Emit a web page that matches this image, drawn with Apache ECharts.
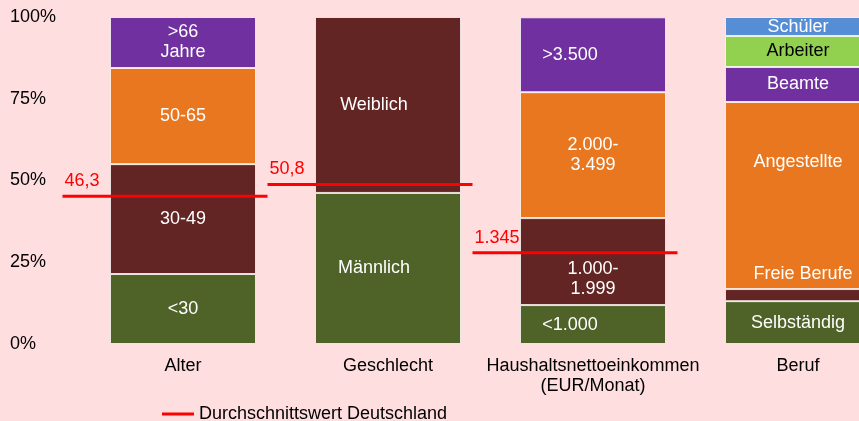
<!DOCTYPE html>
<html>
<head>
<meta charset="utf-8">
<script src="https://cdn.jsdelivr.net/npm/echarts@6/dist/echarts.min.js"></script>
<style>
  html, body { margin: 0; padding: 0; background: #FFDEE0; }
  #chart { width: 859px; height: 421px; }
</style>
</head>
<body>
<div id="chart"></div>
<script>
// categories on the x axis
var categories = ['Alter', 'Geschlecht', 'Haushaltsnettoeinkommen\n(EUR/Monat)', 'Beruf'];

// segments per category (bottom to top), values in %
var alterNames = ['<30', '30-49', '50-65', '>66\nJahre'];
var alterValues = [21.4, 33.6, 29.4, 15.6];

var geschlechtNames = ['Männlich', 'Weiblich'];
var geschlechtValues = [46.2, 53.8];

var einkommenNames = ['<1.000', '1.000-\n1.999', '2.000-\n3.499', '>3.500'];
var einkommenValues = [11.9, 26.6, 38.5, 22.9];

var berufNames = ['Selbständig', 'Freie Berufe', 'Angestellte', 'Beamte', 'Arbeiter', 'Schüler'];
var berufValues = [13.1, 3.7, 57.2, 10.7, 9.5, 5.8];

// Durchschnittswert Deutschland (position on the 0-100 scale + label)
var avgValues = [45.2, 48.8, 27.9];
var avgLabels = ['46,3', '50,8', '1.345'];

var yTicks = [0, 25, 50, 75, 100];

// styles
var GREEN = '#4F6228', MAROON = '#632523', ORANGE = '#E8771F', PURPLE = '#7030A0';
var LIGHTGREEN = '#92D050', BLUE = '#558ED5';
var FONT = "'Liberation Sans', Arial, sans-serif";
var FS = 18;

var groups = [
    { names: alterNames, values: alterValues, colors: [GREEN, MAROON, ORANGE, PURPLE] },
    { names: geschlechtNames, values: geschlechtValues, colors: [GREEN, MAROON] },
    { names: einkommenNames, values: einkommenValues, colors: [GREEN, MAROON, ORANGE, PURPLE] },
    { names: berufNames, values: berufValues, colors: [GREEN, MAROON, ORANGE, PURPLE, LIGHTGREEN, BLUE] }
];

// label tweaks (offset in px), by segment name
var labelOffset = {
    'Männlich': [-14, 0], 'Weiblich': [-14, 0],
    '<1.000': [-23, 0], '>3.500': [-23, 0], '1.000-\n1.999': [0, 17],
    'Angestellte': [0, -34], 'Freie Berufe': [5, -21], 'Schüler': [0, 1]
};
var labelDark = { 'Arbeiter': true };

var series = [];
groups.forEach(function (g, ci) {
    g.names.forEach(function (name, si) {
        var data = categories.map(function (c, i) { return i === ci ? g.values[si] : '-'; });
        series.push({
            name: name,
            type: 'bar',
            stack: 'total',
            barWidth: 146,
            data: data,
            itemStyle: { color: g.colors[si], borderColor: 'rgba(255,255,255,0.75)', borderWidth: 1 },
            label: {
                show: true,
                position: 'inside',
                formatter: name,
                offset: labelOffset[name] || [0, 0],
                color: labelDark[name] ? '#000' : '#fff',
                fontFamily: FONT,
                fontSize: FS,
                lineHeight: 20
            },
            emphasis: { disabled: true }
        });
    });
});

series.push({
    name: 'Durchschnittswert Deutschland',
    type: 'custom',
    itemStyle: { color: '#FF0000' },
    data: avgValues.map(function (v, i) { return [i, v]; }),
    renderItem: function (params, api) {
        var p = api.coord([api.value(0), api.value(1)]);
        var bw = api.size([1, 0])[0];
        var x0 = p[0] - bw / 2 - 18, x1 = p[0] + bw / 2 - 18;
        return {
            type: 'group',
            children: [
                { type: 'line', shape: { x1: x0, y1: p[1], x2: x1, y2: p[1] },
                  style: { stroke: '#FF0000', lineWidth: 3 } },
                { type: 'text', x: x0 + 2, y: p[1] - 6,
                  style: { text: avgLabels[params.dataIndex], fill: '#FF0000', font: FS + 'px ' + FONT,
                           textVerticalAlign: 'bottom' } }
            ]
        };
    },
    z: 5
});

var chart = echarts.init(document.getElementById('chart'));
chart.setOption({
    backgroundColor: '#FFDEE0',
    animation: false,
    grid: { left: 80.5, top: 17, width: 820, height: 327, outerBoundsMode: 'none', containLabel: false },
    legend: {
        data: [{ name: 'Durchschnittswert Deutschland', icon: 'rect' }],
        left: 157, top: 400,
        itemWidth: 32, itemHeight: 3, itemGap: 10,
        textStyle: { fontFamily: FONT, fontSize: FS, color: '#000' },
        selectedMode: false
    },
    xAxis: {
        type: 'category',
        data: categories,
        axisLine: { show: false },
        axisTick: { show: false },
        axisLabel: { margin: 12, color: '#000', fontFamily: FONT, fontSize: FS, lineHeight: 20, interval: 0 }
    },
    yAxis: {
        type: 'value',
        min: yTicks[0], max: yTicks[yTicks.length - 1], interval: 25,
        splitLine: { show: false },
        axisLine: { show: false },
        axisTick: { show: false },
        axisLabel: { formatter: '{value}%', align: 'left', margin: 70.5, color: '#000', fontFamily: FONT, fontSize: FS }
    },
    series: series
});
</script>
</body>
</html>
